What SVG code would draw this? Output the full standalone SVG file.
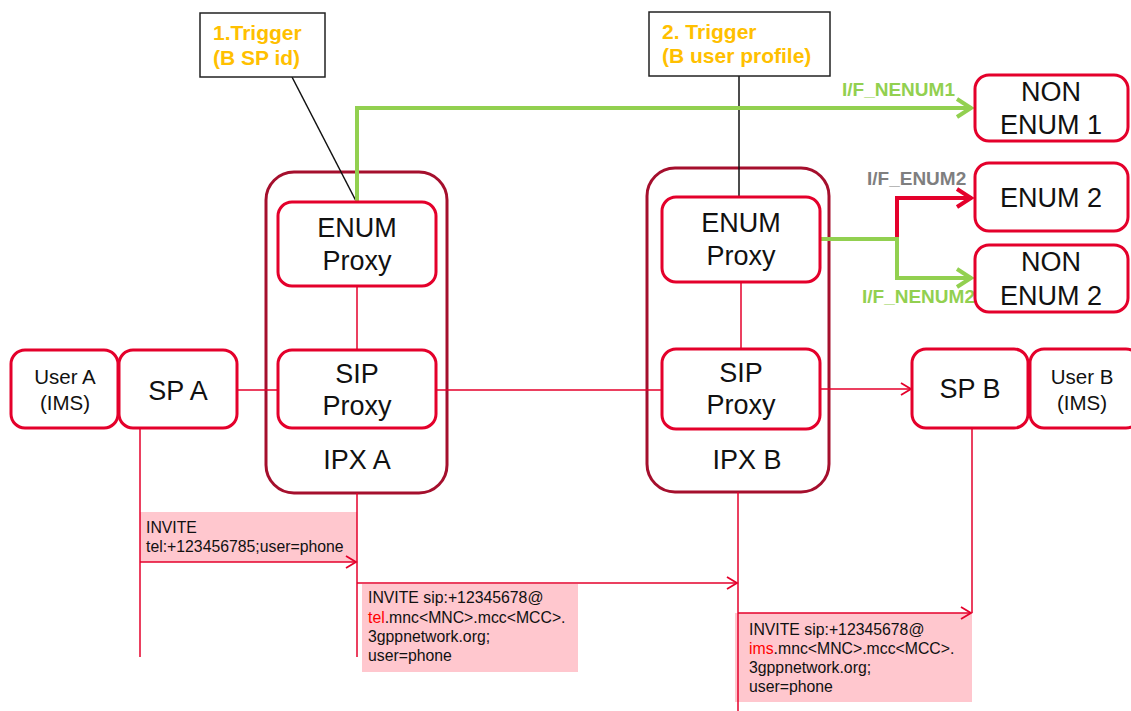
<svg xmlns="http://www.w3.org/2000/svg" width="1131" height="711" viewBox="0 0 1131 711">
<defs>
<style>
.node{fill:#fff;stroke:#E4002B;stroke-width:3}
.ipx{fill:#fff;stroke:#A50F2D;stroke-width:3}
.trig{fill:#fff;stroke:#222;stroke-width:1.5}
.t{font-family:"Liberation Sans",Arial,sans-serif;fill:#111;text-anchor:middle}
.big{font-size:27px}
.mid{font-size:20.5px}
.tt{font-family:"Liberation Sans",Arial,sans-serif;font-weight:bold;font-size:21px;fill:#FFC000}
.lab{font-family:"Liberation Sans",Arial,sans-serif;font-weight:bold;font-size:19px}
.msg{font-family:"Liberation Sans",Arial,sans-serif;font-size:15.8px;fill:#111}
.red{fill:#FF0000}
.rl{stroke:#E4002B;stroke-width:1.5;fill:none}
.gl{stroke:#92D050;stroke-width:4;fill:none}
.rb{stroke:#E4002B;stroke-width:4;fill:none}
.pink{fill:#FFC7CE}
</style>
<marker id="ar" markerWidth="14" markerHeight="14" refX="11" refY="7" orient="auto" markerUnits="userSpaceOnUse">
<path d="M1,1 L11,7 L1,13" fill="none" stroke="#E4002B" stroke-width="1.8"/>
</marker>
<marker id="ag" markerWidth="22" markerHeight="22" refX="19" refY="11" orient="auto" markerUnits="userSpaceOnUse">
<path d="M4,2 L18,11 L4,20" fill="none" stroke="#92D050" stroke-width="4"/>
</marker>
<marker id="arb" markerWidth="22" markerHeight="22" refX="19" refY="11" orient="auto" markerUnits="userSpaceOnUse">
<path d="M4,2 L18,11 L4,20" fill="none" stroke="#E4002B" stroke-width="4"/>
</marker>
</defs>
<rect width="1131" height="711" fill="#fff"/>

<!-- message boxes (backgrounds) -->
<g id="msg1">
<rect class="pink" x="140" y="512" width="217" height="50"/>
<text class="msg" x="146" y="533">INVITE</text>
<text class="msg" x="146" y="552">tel:+123456785;user=phone</text>
</g>
<g id="msg2">
<rect class="pink" x="362" y="584" width="216" height="88"/>
<text class="msg" x="368" y="603">INVITE sip:+12345678@</text>
<text class="msg" x="368" y="623"><tspan class="red">tel</tspan>.mnc&lt;MNC&gt;.mcc&lt;MCC&gt;.</text>
<text class="msg" x="368" y="642">3gppnetwork.org;</text>
<text class="msg" x="368" y="661">user=phone</text>
</g>
<g id="msg3">
<rect class="pink" x="735" y="613" width="237" height="89"/>
<text class="msg" x="749" y="635">INVITE sip:+12345678@</text>
<text class="msg" x="749" y="654"><tspan class="red">ims</tspan>.mnc&lt;MNC&gt;.mcc&lt;MCC&gt;.</text>
<text class="msg" x="749" y="673">3gppnetwork.org;</text>
<text class="msg" x="749" y="692">user=phone</text>
</g>

<!-- IPX containers -->
<g id="ipxA">
<rect class="ipx" x="266" y="172" width="181" height="321" rx="28"/>
<text class="t big" x="357" y="469">IPX A</text>
</g>
<g id="ipxB">
<rect class="ipx" x="647" y="168" width="182" height="324" rx="28"/>
<text class="t big" x="747" y="469">IPX B</text>
</g>

<!-- connectors -->
<g id="connectors">
<line class="rl" x1="357" y1="286" x2="357" y2="350"/>
<line class="rl" x1="741" y1="282" x2="741" y2="349"/>
<line class="rl" x1="237" y1="390" x2="278" y2="390"/>
<line class="rl" x1="436" y1="390" x2="662" y2="390"/>
<line class="rl" x1="820" y1="389" x2="911" y2="389" marker-end="url(#ar)"/>
<line class="rl" x1="140" y1="428" x2="140" y2="657"/>
<line class="rl" x1="357" y1="493" x2="357" y2="657"/>
<line class="rl" x1="738" y1="492" x2="738" y2="711"/>
<line class="rl" x1="972" y1="428" x2="972" y2="613"/>
<line class="rl" x1="140" y1="562" x2="356" y2="562" marker-end="url(#ar)"/>
<line class="rl" x1="357" y1="583" x2="737" y2="583" marker-end="url(#ar)"/>
<line class="rl" x1="738" y1="613" x2="971" y2="613" marker-end="url(#ar)"/>
<line x1="292" y1="77" x2="356" y2="201" stroke="#111" stroke-width="1.5"/>
<line x1="739" y1="76" x2="739" y2="197" stroke="#111" stroke-width="1.5"/>
<path class="gl" d="M357,201 V108 H972" marker-end="url(#ag)"/>
<path class="rb" d="M897,239 V198 H972" marker-end="url(#arb)"/>
<path class="gl" d="M820,239 H897 V278 H972" marker-end="url(#ag)"/>
<text class="lab" x="842" y="96" fill="#92D050">I/F_NENUM1</text>
<text class="lab" x="867" y="185" fill="#7F7F7F">I/F_ENUM2</text>
<text class="lab" x="862" y="303" fill="#92D050">I/F_NENUM2</text>
</g>

<!-- triggers -->
<g id="trigger1">
<rect class="trig" x="200" y="13" width="125" height="64"/>
<text class="tt" x="213" y="40">1.Trigger</text>
<text class="tt" x="213" y="65">(B SP id)</text>
</g>
<g id="trigger2">
<rect class="trig" x="649" y="12" width="181" height="64"/>
<text class="tt" x="662" y="39">2. Trigger</text>
<text class="tt" x="662" y="63">(B user profile)</text>
</g>

<!-- nodes -->
<g id="enumProxyA">
<rect class="node" x="278" y="202" width="158" height="84" rx="14"/>
<text class="t big" x="357" y="237">ENUM</text>
<text class="t big" x="357" y="270">Proxy</text>
</g>
<g id="sipProxyA">
<rect class="node" x="278" y="350" width="158" height="78" rx="14"/>
<text class="t big" x="357" y="383">SIP</text>
<text class="t big" x="357" y="415">Proxy</text>
</g>
<g id="enumProxyB">
<rect class="node" x="662" y="197" width="158" height="85" rx="14"/>
<text class="t big" x="741" y="232">ENUM</text>
<text class="t big" x="741" y="265">Proxy</text>
</g>
<g id="sipProxyB">
<rect class="node" x="662" y="349" width="158" height="80" rx="14"/>
<text class="t big" x="741" y="382">SIP</text>
<text class="t big" x="741" y="414">Proxy</text>
</g>
<g id="userA">
<rect class="node" x="11" y="350" width="107" height="78" rx="14"/>
<text class="t mid" x="65" y="384">User A</text>
<text class="t mid" x="65" y="410">(IMS)</text>
</g>
<g id="spA">
<rect class="node" x="119" y="350" width="118" height="78" rx="14"/>
<text class="t big" x="178" y="400">SP A</text>
</g>
<g id="spB">
<rect class="node" x="912" y="349" width="116" height="79" rx="14"/>
<text class="t big" x="970" y="398">SP B</text>
</g>
<g id="userB">
<rect class="node" x="1030" y="349" width="110" height="79" rx="14"/>
<text class="t mid" x="1082" y="384">User B</text>
<text class="t mid" x="1082" y="410">(IMS)</text>
</g>
<g id="nonEnum1">
<rect class="node" x="975" y="75" width="153" height="66" rx="14"/>
<text class="t big" x="1051" y="101">NON</text>
<text class="t big" x="1051" y="134">ENUM 1</text>
</g>
<g id="enum2">
<rect class="node" x="975" y="163" width="153" height="68" rx="14"/>
<text class="t big" x="1051" y="207">ENUM 2</text>
</g>
<g id="nonEnum2">
<rect class="node" x="975" y="245" width="153" height="67" rx="14"/>
<text class="t big" x="1051" y="271">NON</text>
<text class="t big" x="1051" y="305">ENUM 2</text>
</g>
</svg>
